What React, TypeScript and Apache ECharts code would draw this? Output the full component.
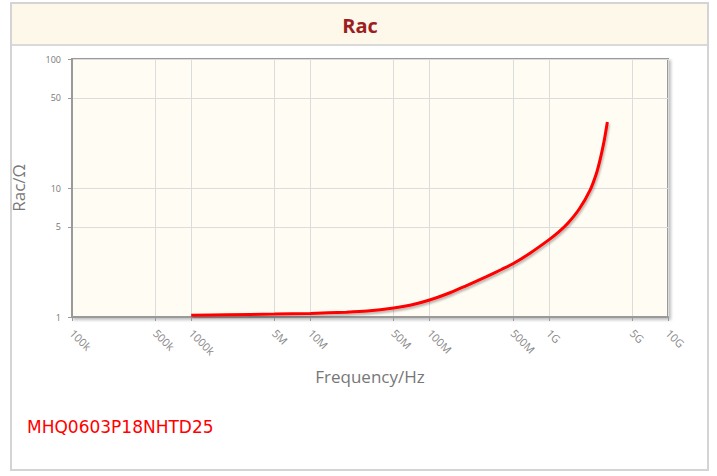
import React, { useEffect, useRef } from "react";
import * as echarts from "echarts";

const freqHz = [1e6, 2e6, 5e6, 1e7, 2e7, 3e7, 5e7, 7e7, 1e8, 1.5e8, 2e8, 3e8, 4e8, 5e8, 7e8, 1e9, 1.2e9, 1.45e9, 1.8e9, 2.22e9, 2.5e9, 2.7e9, 2.9e9, 3.1e9];
const racOhm = [1.031, 1.04, 1.053, 1.066, 1.09, 1.113, 1.174, 1.239, 1.354, 1.549, 1.738, 2.059, 2.334, 2.584, 3.136, 3.96, 4.52, 5.35, 6.87, 9.64, 12.83, 16.76, 22.7, 32.5];

const xTickValues = [1e5, 5e5, 1e6, 5e6, 1e7, 5e7, 1e8, 5e8, 1e9, 5e9, 1e10];
const xTickLabels = ["100k", "500k", "1000k", "5M", "10M", "50M", "100M", "500M", "1G", "5G", "10G"];
const yTickValues = [1, 5, 10, 50, 100];
const yTickLabels = ["1", "5", "10", "50", "100"];

const titleText = "Rac";
const partName = "MHQ0603P18NHTD25";

function labelFor(values: number[], labels: string[], v: number): string {
  for (let i = 0; i < values.length; i++) {
    if (Math.abs(v - values[i]) / values[i] < 1e-6) return labels[i];
  }
  return "";
}

export default function App() {
  const ref = useRef<HTMLDivElement>(null);
  useEffect(() => {
    if (!ref.current) return;
    const chart = echarts.init(ref.current, null, { renderer: "svg" });
    const data = freqHz.map((f, i) => [f, racOhm[i]]);
    chart.setOption({
      animation: false,
      backgroundColor: "#ffffff",
      graphic: [
        {
          type: "rect",
          shape: { x: 11, y: 3, width: 697, height: 467 },
          style: { fill: "#ffffff", stroke: "#d4d4d4", lineWidth: 2 },
          z: -10,
        },
        {
          type: "rect",
          shape: { x: 12, y: 4, width: 695, height: 41 },
          style: { fill: "#fdf8ea", stroke: null },
          z: -9,
        },
        {
          type: "line",
          shape: { x1: 12, y1: 45, x2: 707, y2: 45 },
          style: { stroke: "#d9d9d9", lineWidth: 2 },
          z: -9,
        },
        {
          type: "text",
          x: 360,
          y: 25,
          style: {
            text: titleText,
            fill: "#9c1f1f",
            font: "bold 20px 'Open Sans', sans-serif",
            align: "center",
            verticalAlign: "middle",
          },
        },
        {
          type: "text",
          x: 27,
          y: 427,
          style: {
            text: partName,
            fill: "#ff0000",
            font: "17px 'DejaVu Sans', sans-serif",
            align: "left",
            verticalAlign: "middle",
          },
        },
      ],
      grid: {
        left: 72,
        right: 49,
        top: 59,
        bottom: 159,
        show: true,
        backgroundColor: "#fffcf3",
        borderColor: "#9a9a9a",
        borderWidth: 2,
        shadowColor: "rgba(0,0,0,0.25)",
        shadowBlur: 3,
        shadowOffsetX: 2,
        shadowOffsetY: 2,
      },
      xAxis: {
        type: "log",
        logBase: 10,
        min: 1e5,
        max: 1e10,
        name: "Frequency/Hz",
        nameLocation: "middle",
        nameGap: 51,
        nameTextStyle: { color: "#777", fontSize: 17, fontFamily: "'Open Sans', sans-serif" },
        axisLine: { show: true, lineStyle: { color: "#9a9a9a", width: 2 } },
        axisTick: { show: true, length: 4, lineStyle: { color: "#9a9a9a" }, customValues: xTickValues },
        axisLabel: {
          customValues: xTickValues,
          rotate: -45,
          color: "#888",
          fontSize: 11,
          fontFamily: "'Open Sans', sans-serif",
          margin: 14,
          formatter: (v: number) => labelFor(xTickValues, xTickLabels, v),
        },
        splitLine: { show: true, lineStyle: { color: "#dcdcdc", width: 1 } },
      },
      yAxis: {
        type: "log",
        logBase: 10,
        min: 1,
        max: 100,
        name: "Rac/Ω",
        nameLocation: "middle",
        nameGap: 45,
        nameTextStyle: { color: "#777", fontSize: 17, fontFamily: "'Open Sans', sans-serif" },
        axisLine: { show: true, lineStyle: { color: "#9a9a9a", width: 2 } },
        axisTick: { show: true, length: 4, lineStyle: { color: "#9a9a9a" }, customValues: yTickValues },
        axisLabel: {
          customValues: yTickValues,
          color: "#777",
          fontSize: 9,
          fontFamily: "'Open Sans', sans-serif",
          margin: 11,
          formatter: (v: number) => labelFor(yTickValues, yTickLabels, v),
        },
        splitLine: { show: true, lineStyle: { color: "#dcdcdc", width: 1 } },
      },
      series: [
        {
          type: "line",
          data,
          smooth: 0.3,
          showSymbol: false,
          lineStyle: {
            color: "#ff0000",
            width: 3,
            shadowColor: "rgba(0,0,0,0.3)",
            shadowBlur: 2,
            shadowOffsetX: 1,
            shadowOffsetY: 2,
          },
        },
      ],
    });
    return () => chart.dispose();
  }, []);
  return <div ref={ref} style={{ position: "fixed", left: 0, top: 0, width: 717, height: 476 }} />;
}
